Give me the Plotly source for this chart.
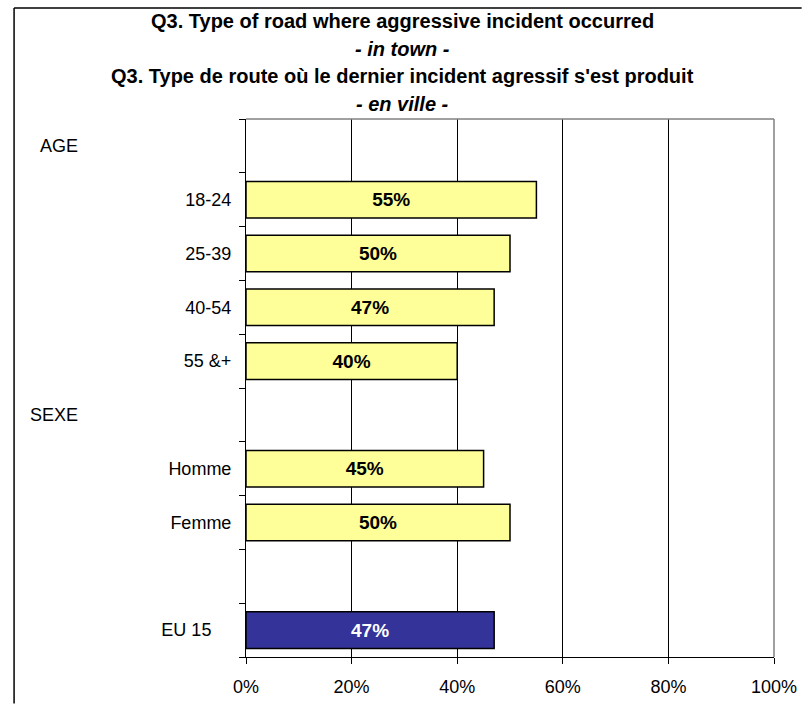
import plotly.graph_objects as go

# rows from top to bottom; blank names are the group header / spacer rows
categories = [" ", "18-24", "25-39", "40-54", "55 &+", "  ", "Homme", "Femme", "   ", "EU 15"]
tick_labels = ["", "18-24", "25-39", "40-54", "55 &+", "", "Homme", "Femme", "", "EU 15\u00a0\u00a0\u00a0\u00a0"]
values = [None, 55, 50, 47, 40, None, 45, 50, None, 47]
group_headers = {"AGE": " ", "SEXE": "  "}

x_ticks = [0, 20, 40, 60, 80, 100]
x_tick_labels = ["0%", "20%", "40%", "60%", "80%", "100%"]

title_lines = [
    "<b>Q3. Type of road where aggressive incident occurred</b>",
    "<b><i>- in town -</i></b>",
    "<b>Q3. Type de route où le dernier incident agressif s'est produit</b>",
    "<b><i>- en ville -</i></b>",
]

YELLOW = "#FFFF99"
NAVY = "#333399"
FONT = "Liberation Sans, Arial, sans-serif"

PLOT_L, PLOT_R, PLOT_T, PLOT_B = 246, 781, 119, 662


def px_x(px):
    return (px - PLOT_L) / (PLOT_R - PLOT_L)


def px_y(py):
    return (PLOT_B - py) / (PLOT_B - PLOT_T)


fill = [NAVY if c == "EU 15" else YELLOW for c in categories]
text_col = ["white" if c == "EU 15" else "black" for c in categories]
labels = ["" if v is None else f"{v}%" for v in values]

fig = go.Figure(
    go.Bar(
        x=values,
        y=categories,
        orientation="h",
        width=0.68,
        marker=dict(color=fill, line=dict(color="black", width=1.5)),
        text=labels,
        textposition="inside",
        insidetextanchor="middle",
        textangle=0,
        textfont=dict(family=FONT, size=19, color=text_col, weight="bold"),
        hoverinfo="skip",
    )
)

fig.update_layout(
    width=809,
    height=709,
    margin=dict(l=PLOT_L, r=809 - PLOT_R, t=PLOT_T, b=709 - PLOT_B),
    paper_bgcolor="white",
    plot_bgcolor="white",
    showlegend=False,
    font=dict(family=FONT, size=18, color="black"),
)

fig.update_xaxes(
    range=[0, 100],
    tickvals=x_ticks,
    ticktext=x_tick_labels,
    showgrid=True,
    gridcolor="black",
    gridwidth=1,
    showline=True,
    linecolor="black",
    linewidth=1,
    ticks="outside",
    ticklen=6,
    tickcolor="black",
    ticklabelstandoff=7,
    zeroline=False,
    fixedrange=True,
)

fig.update_yaxes(
    type="category",
    categoryorder="array",
    categoryarray=categories,
    tickvals=categories,
    ticktext=tick_labels,
    autorange="reversed",
    showgrid=False,
    showline=True,
    linecolor="black",
    linewidth=1,
    ticks="outside",
    ticklen=6,
    tickcolor="black",
    tickson="boundaries",
    ticklabelstandoff=10,
    fixedrange=True,
)

# title lines
for i, line in enumerate(title_lines):
    fig.add_annotation(
        text=line, xref="paper", yref="paper",
        x=px_x(405), y=px_y(20 + i * 28),
        xanchor="center", yanchor="middle", showarrow=False,
        font=dict(family=FONT, size=20, color="black"),
    )

# group headers
for name, cat in group_headers.items():
    fig.add_annotation(
        text=name, xref="paper", yref="y",
        x=px_x(78), y=cat,
        xanchor="right", yanchor="middle", showarrow=False,
        font=dict(family=FONT, size=18, color="black"),
    )

# grey plot-area border on top and right
fig.add_shape(type="line", xref="paper", yref="paper", x0=0, x1=1, y0=1, y1=1,
              line=dict(color="#808080", width=1.5), layer="above")
fig.add_shape(type="line", xref="paper", yref="paper", x0=1, x1=1, y0=0, y1=1,
              line=dict(color="#808080", width=1.5), layer="above")

# outer chart frame (only left and top edges are inside the picture)
fig.add_shape(type="line", xref="paper", yref="paper",
              x0=px_x(11), x1=px_x(11), y0=px_y(7), y1=px_y(709),
              line=dict(color="black", width=1.5), layer="above")
fig.add_shape(type="line", xref="paper", yref="paper",
              x0=px_x(11), x1=px_x(809), y0=px_y(7), y1=px_y(7),
              line=dict(color="black", width=1.5), layer="above")

fig.write_html(
    "out.html",
    config={"displayModeBar": False},
    post_script="document.body.style.margin='0';",
)
